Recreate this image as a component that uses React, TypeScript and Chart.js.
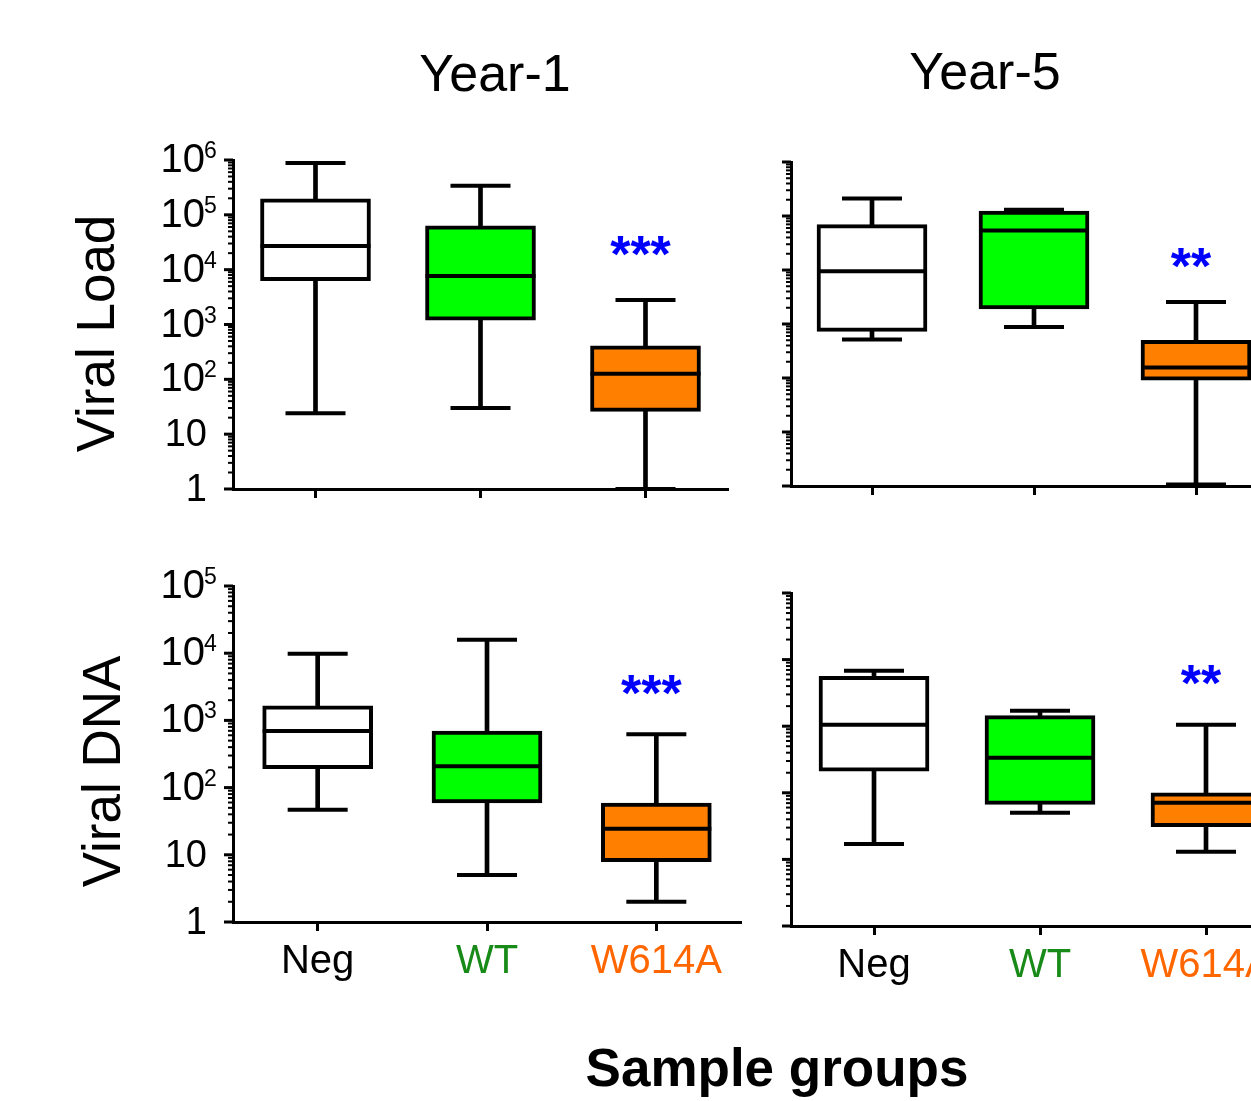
import React, { useEffect, useRef } from 'react';
import { Chart, registerables } from 'chart.js';

Chart.register(...registerables);

const FONT = '"Liberation Sans", Arial, Helvetica, sans-serif';

// ---------- data ----------
const categories = ['Neg', 'WT', 'W614A'];
const boxFills = ['#ffffff', '#00ff00', '#ff8000'];
const labelColors = ['#000000', '#178a17', '#ff6600'];

// Year-1, Viral Load
const y1LoadMin = [24, 30, 1];
const y1LoadQ1 = [6300, 1200, 26];
const y1LoadMed = [27000, 7700, 126];
const y1LoadQ3 = [195000, 63000, 410];
const y1LoadMax = [880000, 340000, 2800];

// Year-5, Viral Load
const y5LoadMin = [515, 880, 1.07];
const y5LoadQ1 = [730, 1900, 91];
const y5LoadMed = [9500, 54000, 156];
const y5LoadQ3 = [69000, 124000, 500];
const y5LoadMax = [210000, 130000, 2550];

// Year-1, Viral DNA
const y1DnaMin = [47, 5, 2];
const y1DnaQ1 = [191, 59, 7.9];
const y1DnaMed = [695, 207, 24.5];
const y1DnaQ3 = [1650, 695, 59];
const y1DnaMax = [9800, 15800, 620];

// Year-5, Viral DNA
const y5DnaMin = [17, 50, 13];
const y5DnaQ1 = [212, 67, 31];
const y5DnaMed = [1050, 336, 71];
const y5DnaQ3 = [5600, 1440, 100];
const y5DnaMax = [6800, 1700, 1050];

// significance marks (over W614A)
const starTexts = ['***', '**', '***', '**'];
const starValues = [29000, 18000, 3600, 6300];

const loadMax = 1e6;
const dnaMax = 1e5;

const LW = 4; // box / whisker line width

// ---------- plugins ----------
const logTicksPlugin = {
  id: 'logTicks',
  afterDraw(chart: any, _args: any, opts: any) {
    const y = chart.scales.y;
    const ctx = chart.ctx;
    const axisX = chart.chartArea.left;
    const maxExp = Math.round(Math.log10(y.max));
    ctx.save();
    ctx.fillStyle = '#000';
    for (let k = 0; k <= maxExp; k++) {
      for (let m = 1; m <= 9; m++) {
        if (k === maxExp && m > 1) break;
        const v = m * Math.pow(10, k);
        const py = y.getPixelForValue(v);
        const len = m === 1 ? 9 : 5;
        const w = m === 1 ? 3 : 2;
        ctx.fillRect(axisX - len, py - w / 2, len, w);
      }
      if (opts && opts.labels) {
        const py = y.getPixelForValue(Math.pow(10, k));
        const base = k === 0 ? '1' : '10';
        const sup = k >= 2 ? String(k) : '';
        const xr = sup ? axisX - 28 : axisX - 26;
        ctx.textAlign = 'right';
        ctx.textBaseline = 'alphabetic';
        ctx.font = `${sup ? 40 : 38}px ${FONT}`;
        ctx.fillText(base, xr, py + 12);
        if (sup) {
          ctx.textAlign = 'left';
          ctx.font = `23px ${FONT}`;
          ctx.fillText(sup, xr - 1, py - 2);
        }
      }
    }
    ctx.restore();
  },
};

const starsPlugin = {
  id: 'stars',
  afterDatasetsDraw(chart: any, _args: any, opts: any) {
    if (!opts || !opts.text) return;
    const ctx = chart.ctx;
    const x = chart.scales.x.getPixelForValue(opts.index) - 5;
    const y = chart.scales.y.getPixelForValue(opts.value);
    ctx.save();
    ctx.font = `bold 52px ${FONT}`;
    ctx.fillStyle = '#0000ff';
    ctx.textAlign = 'center';
    ctx.textBaseline = 'alphabetic';
    ctx.fillText(opts.text, x, y + 28);
    ctx.restore();
  },
};

type Spec = {
  left: number; top: number; w: number; h: number;
  padTop: number; padRight: number; xH: number; yW: number;
  max: number; xLabels: boolean; yLabels: boolean;
  mins: number[]; q1: number[]; med: number[]; q3: number[]; maxs: number[];
  star: string; starValue: number;
};

function Panel({ spec }: { spec: Spec }) {
  const ref = useRef<HTMLCanvasElement>(null);
  useEffect(() => {
    if (!ref.current) return;
    const capDs = (data: number[], r: number, order: number) => ({
      type: 'line',
      data,
      showLine: false,
      pointStyle: 'line',
      pointRadius: r,
      pointHoverRadius: r,
      pointBorderWidth: LW,
      pointHoverBorderWidth: LW,
      pointBorderColor: '#000',
      pointBackgroundColor: '#000',
      borderColor: '#000',
      clip: false,
      order,
    });
    const chart = new Chart(ref.current, {
      type: 'bar',
      data: {
        labels: categories,
        datasets: [
          {
            type: 'bar',
            data: categories.map((_, i) => [spec.mins[i], spec.maxs[i]]),
            backgroundColor: '#000',
            borderWidth: 0,
            barThickness: LW,
            grouped: false,
            order: 4,
          },
          {
            type: 'bar',
            data: categories.map((_, i) => [spec.q1[i], spec.q3[i]]),
            backgroundColor: boxFills,
            borderColor: '#000',
            borderWidth: LW,
            borderSkipped: false,
            barThickness: 110,
            grouped: false,
            order: 3,
          },
          capDs(spec.mins, 30, 2),
          capDs(spec.maxs, 30, 2),
          capDs(spec.med, 55, 1),
        ] as any,
      },
      options: {
        animation: false,
        responsive: false,
        events: [],
        layout: { autoPadding: false, padding: { left: 0, top: spec.padTop, right: spec.padRight, bottom: 0 } },
        plugins: {
          legend: { display: false },
          tooltip: { enabled: false },
          logTicks: { labels: spec.yLabels },
          stars: { text: spec.star, value: spec.starValue, index: 2 },
        } as any,
        scales: {
          x: {
            type: 'category',
            offset: true,
            grid: {
              display: true,
              drawOnChartArea: false,
              drawTicks: true,
              tickLength: 9,
              tickWidth: 3,
              tickColor: '#000',
              offset: false,
            },
            border: { display: true, color: '#000', width: 3 },
            ticks: {
              display: spec.xLabels,
              color: (c: any) => labelColors[c.index] || '#000',
              font: { family: FONT, size: 40 },
              padding: 7,
              maxRotation: 0,
              autoSkip: false,
            },
            afterFit: (s: any) => { s.height = spec.xH; },
          },
          y: {
            type: 'logarithmic',
            min: 1,
            max: spec.max,
            ticks: { display: false },
            grid: { display: false },
            border: { display: true, color: '#000', width: 3 },
            afterFit: (s: any) => { s.width = spec.yW; },
          },
        } as any,
      },
      plugins: [logTicksPlugin, starsPlugin] as any,
    } as any);
    return () => chart.destroy();
  }, []);
  return (
    <canvas
      ref={ref}
      width={spec.w}
      height={spec.h}
      style={{ position: 'absolute', left: spec.left, top: spec.top, width: spec.w, height: spec.h }}
    />
  );
}

function Txt({ text, cx, baseline, size, bold }: { text: string; cx: number; baseline: number; size: number; bold?: boolean }) {
  return (
    <div
      style={{
        position: 'absolute', left: cx - 400, width: 800, top: baseline - 0.8465 * size,
        height: size, lineHeight: `${size}px`, fontSize: size, fontWeight: bold ? 'bold' : 'normal',
        textAlign: 'center', whiteSpace: 'nowrap', color: '#000', fontFamily: FONT,
      }}
    >
      {text}
    </div>
  );
}

function VTxt({ text, cy, baselineX, size }: { text: string; cy: number; baselineX: number; size: number }) {
  const cx = baselineX - 0.3465 * size;
  return (
    <div
      style={{
        position: 'absolute', left: cx - 400, width: 800, top: cy - size / 2,
        height: size, lineHeight: `${size}px`, fontSize: size, textAlign: 'center',
        whiteSpace: 'nowrap', color: '#000', fontFamily: FONT,
        transform: 'rotate(-90deg)', transformOrigin: '50% 50%',
      }}
    >
      {text}
    </div>
  );
}

const specs: Spec[] = [
  {
    left: 120, top: 110, w: 640, h: 430, padTop: 50, padRight: 32, xH: 51, yW: 113,
    max: loadMax, xLabels: false, yLabels: true,
    mins: y1LoadMin, q1: y1LoadQ1, med: y1LoadMed, q3: y1LoadQ3, maxs: y1LoadMax,
    star: starTexts[0], starValue: starValues[0],
  },
  {
    left: 700, top: 110, w: 600, h: 430, padTop: 52, padRight: 23, xH: 54, yW: 91,
    max: loadMax, xLabels: false, yLabels: false,
    mins: y5LoadMin, q1: y5LoadQ1, med: y5LoadMed, q3: y5LoadQ3, maxs: y5LoadMax,
    star: starTexts[1], starValue: starValues[1],
  },
  {
    left: 120, top: 540, w: 640, h: 470, padTop: 46, padRight: 19, xH: 88, yW: 113,
    max: dnaMax, xLabels: true, yLabels: true,
    mins: y1DnaMin, q1: y1DnaQ1, med: y1DnaMed, q3: y1DnaQ3, maxs: y1DnaMax,
    star: starTexts[2], starValue: starValues[2],
  },
  {
    left: 700, top: 540, w: 600, h: 470, padTop: 53, padRight: 11, xH: 84, yW: 91,
    max: dnaMax, xLabels: true, yLabels: false,
    mins: y5DnaMin, q1: y5DnaQ1, med: y5DnaMed, q3: y5DnaQ3, maxs: y5DnaMax,
    star: starTexts[3], starValue: starValues[3],
  },
];

export default function App() {
  return (
    <div
      style={{
        position: 'absolute', left: 0, top: 0, width: 1251, height: 1101,
        overflow: 'hidden', background: '#fff', fontFamily: FONT,
      }}
    >
      {specs.map((s, i) => <Panel key={i} spec={s} />)}
      <Txt text="Year-1" cx={495} baseline={91} size={52} />
      <Txt text="Year-5" cx={985} baseline={89} size={52} />
      <VTxt text="Viral Load" cy={333} baselineX={113} size={53} />
      <VTxt text="Viral DNA" cy={771} baselineX={119} size={53} />
      <Txt text="Sample groups" cx={777} baseline={1086} size={53} bold />
    </div>
  );
}
